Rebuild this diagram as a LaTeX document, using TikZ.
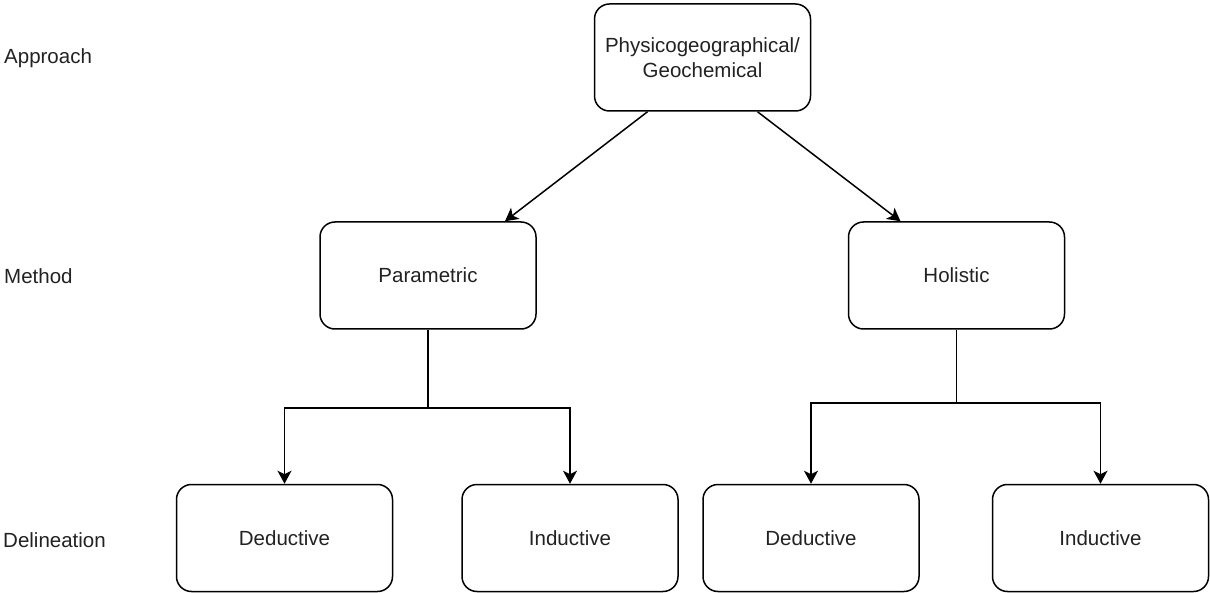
\documentclass[tikz,border=0pt]{standalone}
\usepackage{fontspec}
\setmainfont{Liberation Sans}
\usetikzlibrary{arrows.meta}
\definecolor{txt}{HTML}{222222}
\begin{document}
\begin{tikzpicture}[x=1pt,y=-1pt,
  box/.style={draw=black,line width=1.5pt,rounded corners=15pt,minimum width=216pt,minimum height=107pt,align=center,inner sep=0pt,text=txt,font=\fontsize{20.5}{25}\selectfont},
  lbl/.style={anchor=west,inner sep=0pt,text=txt,font=\fontsize{20.5}{25}\selectfont},
  conn/.style={line width=1.5pt,draw=black},
  arr/.style={conn,-{Stealth[length=13pt,width=14pt,inset=3.5pt]}}]
\useasboundingbox (0,0) rectangle (1210,593);
\node[box] (top) at (702.5,57.5) {Physicogeographical/\\Geochemical};
\node[box] (par) at (428,275.5) {Parametric};
\node[box] (hol) at (956.5,275.5) {Holistic};
\node[box] (d1) at (284.5,538) {Deductive};
\node[box] (i1) at (570,538) {Inductive};
\node[box] (d2) at (811,538) {Deductive};
\node[box] (i2) at (1100.5,538) {Inductive};
\node[lbl] (l1) at (4,58) {Approach};
\node[lbl] (l2) at (4,276) {Method};
\node[lbl] (l3) at (3,540) {Delineation};
\draw[arr] ([xshift=-55pt]top.south) -- ([xshift=77pt]par.north);
\draw[arr] ([xshift=55pt]top.south) -- ([xshift=-56pt]hol.north);
\coordinate (pj) at (428,408);
\coordinate (hj) at (956.5,403);
\draw[conn] (par.south) -- (pj);
\draw[arr] (pj) -| (d1.north);
\draw[arr] (pj) -| (i1.north);
\draw[conn] (hol.south) -- (hj);
\draw[arr] (hj) -| (d2.north);
\draw[arr] (hj) -| (i2.north);
\end{tikzpicture}
\end{document}
